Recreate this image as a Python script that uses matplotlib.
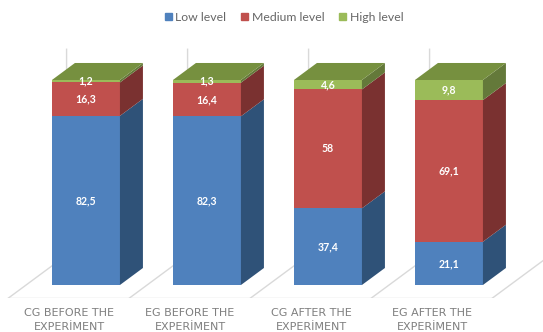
import matplotlib
matplotlib.use('Agg')
import matplotlib.pyplot as plt
from matplotlib.patches import Patch, Polygon

groups = ['CG BEFORE THE\nEXPERİMENT', 'EG BEFORE THE\nEXPERİMENT',
          'CG AFTER THE\nEXPERİMENT', 'EG AFTER THE\nEXPERİMENT']
low = [82.5, 82.3, 37.4, 21.1]
medium = [16.3, 16.4, 58, 69.1]
high = [1.2, 1.3, 4.6, 9.8]

series = [('Low level', low, '#4f81bd', '#2f5278'),
          ('Medium level', medium, '#c0504d', '#7a3130'),
          ('High level', high, '#9bbb59', '#64793a')]
top_color = '#76903f'

# sizes of the fake 3d box, in axis units
bar_w = 0.562
shift = 0.14
dx = 0.19
dy = 8.3
grid = '#d9d9d9'

fig = plt.figure(figsize=(5.43, 3.32), dpi=100)
ax = fig.add_axes([0, 34 / 332, 1, 298 / 332])
ax.set_xlim(-69 / 121, (543 - 69) / 121)
ax.set_ylim(-13 / 2.05, 285 / 2.05)

# floor and back wall lines
for i in range(5):
    x0 = i - 0.5
    ax.plot([x0, x0 + 0.48, x0 + 0.48], [-6.34, 14.6, 115], color=grid, lw=1, zorder=1)
ax.plot([-0.5, 3.5], [-6.34, -6.34], color=grid, lw=1, zorder=1)

for i in range(len(groups)):
    left = i + shift - bar_w / 2
    right = left + bar_w
    bottom = 0
    for name, values, front, side in series:
        top = bottom + values[i]
        ax.bar(left + bar_w / 2, values[i], bar_w, bottom=bottom, color=front, zorder=3)
        ax.add_patch(Polygon([(right, bottom), (right + dx, bottom + dy),
                              (right + dx, top + dy), (right, top)], color=side, lw=0, zorder=3))
        ax.text(left + bar_w / 2, bottom + values[i] / 2, str(values[i]).replace('.', ','),
                color='white', fontsize=7.6, fontweight='bold', family='Lato',
                ha='center', va='center', zorder=5)
        bottom = top
    ax.add_patch(Polygon([(left, bottom), (right, bottom), (right + dx, bottom + dy),
                          (left + dx, bottom + dy)], color=top_color, lw=0, zorder=3))

ax.set_xticks(range(len(groups)), groups, fontsize=8, color='#7f7f7f', linespacing=1.55)
ax.tick_params(axis='x', length=0, pad=7)
ax.set_yticks([])
for s in ax.spines.values():
    s.set_visible(False)

handles = [Patch(color=c, label=n) for n, v, c, sd in series]
fig.legend(handles=handles, loc='upper center', bbox_to_anchor=(0.523, 0.997), ncol=3,
           frameon=False, handlelength=0.57, handleheight=0.57, handletextpad=0.3, columnspacing=1.2,
           prop={'family': 'Lato', 'size': 8.8}, labelcolor='#666666')

fig.savefig('out.png', dpi=100)
